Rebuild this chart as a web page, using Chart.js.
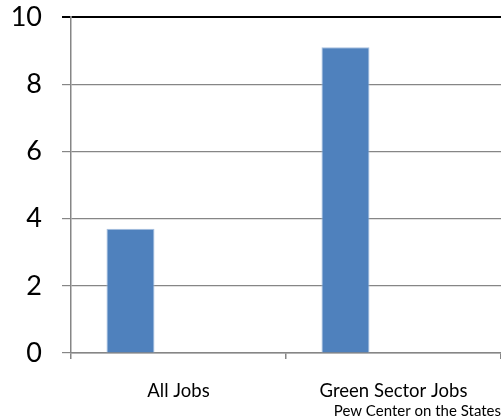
<!DOCTYPE html>
<html lang="en">
<head>
  <meta charset="UTF-8" />
  <title>Job growth</title>
  <style>
    html, body { margin: 0; padding: 0; background: #ffffff; }
    #wrap { width: 501px; height: 420px; position: relative; }
  </style>
</head>
<body>
  <div id="wrap"><canvas id="grafico" width="501" height="420"></canvas></div>

  <script src="https://cdn.jsdelivr.net/npm/chart.js"></script>
  <script>
    // Dados
    const categorias = ['All Jobs', 'Green Sector Jobs'];
    const valores = [3.7, 9.1];
    const vazios = [null, null]; // séries sem dados (ocupam espaço no grupo)
    const ticksY = [0, 2, 4, 6, 8, 10];
    const fonte = 'Pew Center on the States';

    const ctx = document.getElementById('grafico').getContext('2d');
    new Chart(ctx, {
      type: 'bar',
      data: {
        labels: categorias,
        datasets: [
          { label: 'Growth', data: valores, backgroundColor: '#4f81bd', borderColor: '#a7c0e0', borderWidth: 1 },
          { label: 's2', data: vazios },
          { label: 's3', data: vazios }
        ]
      },
      options: {
        responsive: false,
        animation: false,
        categoryPercentage: 0.67,
        barPercentage: 1,
        layout: { padding: { top: 17, right: 0, left: 0, bottom: 0 } },
        plugins: {
          legend: { display: false },
          tooltip: { enabled: false },
          title: {
            display: true,
            text: fonte,
            position: 'bottom',
            align: 'end',
            color: '#000',
            font: { family: 'Lato', size: 15, weight: 'normal' },
            padding: { top: 0, bottom: 0 }
          }
        },
        scales: {
          x: {
            grid: { drawOnChartArea: false, tickLength: 6, color: '#868686', lineWidth: 1.5 },
            border: { color: '#868686', width: 1.5 },
            ticks: { color: '#000', padding: 21, font: { family: 'Lato', size: 18.5 } },
            afterFit: s => { s.height = 49; }
          },
          y: {
            min: 0,
            max: 10,
            afterBuildTicks: s => { s.ticks = ticksY.map(v => ({ value: v })); },
            grid: {
              tickLength: 9,
              color: c => c.tick && c.tick.value === 10 ? '#000' : '#868686',
              lineWidth: c => c.tick && c.tick.value === 10 ? 2 : 1.2
            },
            border: { color: '#868686', width: 1.5 },
            ticks: { color: '#000', padding: 20, font: { family: 'Lato', size: 27 } },
            afterFit: s => { s.width = 71; s.paddingTop = 0; s.paddingBottom = 0; }
          }
        }
      }
    });
  </script>
</body>
</html>
